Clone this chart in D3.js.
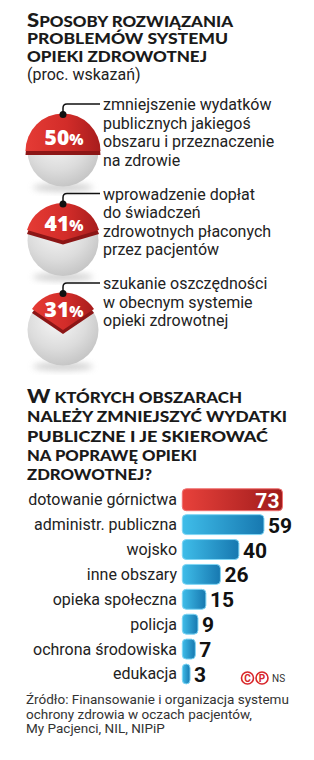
<!DOCTYPE html>
<html>
<head>
<meta charset="utf-8">
<script src="https://cdn.jsdelivr.net/npm/d3@7"></script>
<style>
  html, body { margin: 0; padding: 0; background: #ffffff; }
  svg { display: block; }
</style>
</head>
<body>
<div id="chart"></div>
<script>
// ---------- DATA ----------
const title1Lines = ["Sposoby rozwiązania", "problemów systemu", "opieki zdrowotnej"];
const subtitle1 = "(proc. wskazań)";
const pieValues = [50, 41, 31];
const pieTexts = [
  ["zmniejszenie wydatków", "publicznych jakiegoś", "obszaru i przeznaczenie", "na zdrowie"],
  ["wprowadzenie dopłat", "do świadczeń", "zdrowotnych płaconych", "przez pacjentów"],
  ["szukanie oszczędności", "w obecnym systemie", "opieki zdrowotnej"]
];
const title2Lines = ["W których obszarach", "należy zmniejszyć wydatki", "publiczne i je skierować", "na poprawę opieki", "zdrowotnej?"];
const barCategories = ["dotowanie górnictwa", "administr. publiczna", "wojsko", "inne obszary",
                       "opieka społeczna", "policja", "ochrona środowiska", "edukacja"];
const barValues = [73, 59, 40, 26, 15, 9, 7, 3];
const sourceLines = ["Źródło: Finansowanie i organizacja systemu", "ochrony zdrowia w oczach pacjentów,", "My Pacjenci, NIL, NIPiP"];

// ---------- SETUP ----------
const W = 314, H = 760;
const svg = d3.select("#chart").append("svg").attr("width", W).attr("height", H);
svg.append("rect").attr("width", W).attr("height", H).attr("fill", "#fff");
const defs = svg.append("defs");

const titleFont = "Lato, 'Open Sans', 'DejaVu Sans', sans-serif";
const pctFont = "'Open Sans', Lato, sans-serif";
const bodyFont = "Roboto, 'Noto Sans', sans-serif";

// gradients
const gGray = defs.append("radialGradient").attr("id", "gGray").attr("cx", "42%").attr("cy", "35%").attr("r", "70%");
gGray.append("stop").attr("offset", "0%").attr("stop-color", "#f7f7f7");
gGray.append("stop").attr("offset", "60%").attr("stop-color", "#dcdcdc");
gGray.append("stop").attr("offset", "100%").attr("stop-color", "#c2c2c2");

const gRedPie = defs.append("linearGradient").attr("id", "gRedPie").attr("x1", "0").attr("x2", "1").attr("y1", "0").attr("y2", "0");
gRedPie.append("stop").attr("offset", "0%").attr("stop-color", "#e53b35");
gRedPie.append("stop").attr("offset", "55%").attr("stop-color", "#d22c29");
gRedPie.append("stop").attr("offset", "100%").attr("stop-color", "#a71d1d");

const gBlue = defs.append("linearGradient").attr("id", "gBlue").attr("x1", "0").attr("x2", "1");
gBlue.append("stop").attr("offset", "0%").attr("stop-color", "#3fbde9");
gBlue.append("stop").attr("offset", "100%").attr("stop-color", "#1778b0");

const gRed = defs.append("linearGradient").attr("id", "gRed").attr("x1", "0").attr("x2", "1");
gRed.append("stop").attr("offset", "0%").attr("stop-color", "#e8413b");
gRed.append("stop").attr("offset", "100%").attr("stop-color", "#9f1b1b");

const blur = defs.append("filter").attr("id", "blur").attr("x", "-50%").attr("y", "-50%").attr("width", "200%").attr("height", "200%");
blur.append("feGaussianBlur").attr("stdDeviation", 3);

// title helper: first real capital letter larger, the rest as small capitals
function titleBlock(lines, widths, x0, y0, lh) {
  const g = svg.append("g");
  lines.forEach((line, i) => {
    const t = g.append("text").attr("x", x0).attr("y", y0 + i * lh)
      .attr("font-family", titleFont).attr("font-weight", 900).attr("fill", "#1a1a1a")
      .attr("textLength", widths[i]).attr("lengthAdjust", "spacingAndGlyphs");
    const first = line[0];
    if (first !== first.toLowerCase()) {
      t.append("tspan").attr("font-size", 19).text(first);
      t.append("tspan").attr("font-size", 14.5).style("text-transform", "uppercase").text(line.slice(1));
    } else {
      t.append("tspan").attr("font-size", 14.5).style("text-transform", "uppercase").text(line);
    }
  });
}

// ---------- TITLE 1 ----------
titleBlock(title1Lines, [206, 201, 180], 27, 26.5, 17.5);
svg.append("text").attr("x", 27).attr("y", 79.5)
  .attr("font-family", bodyFont).attr("font-size", 16).attr("fill", "#222")
  .text(subtitle1);

// ---------- PIES ----------
const pieY = d3.scalePoint().domain(d3.range(pieValues.length)).range([151, 330]);
const cx = 63, R = 35.5;
const faceArc = d3.arc().innerRadius(0).outerRadius(R + 2);
const pct = d3.scaleLinear().domain([0, 100]).range([0, 2 * Math.PI]);

pieValues.forEach((v, i) => {
  const cy = pieY(i);
  const g = svg.append("g").attr("transform", `translate(${cx},${cy})`);
  g.append("ellipse").attr("cx", 0).attr("cy", R + 1).attr("rx", R * 0.85).attr("ry", 4)
    .attr("fill", "#bdbdbd").attr("opacity", 0.7).attr("filter", "url(#blur)");
  g.append("circle").attr("r", R).attr("fill", "url(#gGray)");
  const a = pct(v) / 2;
  const slice = { startAngle: -a, endAngle: a };
  g.append("path").attr("d", faceArc(slice)).attr("transform", "translate(0,4)").attr("fill", "#8c1616");
  g.append("path").attr("d", faceArc(slice)).attr("fill", "url(#gRedPie)");
  const off = 6 + (50 - v) * 0.385;
  const t = g.append("text").attr("x", 1).attr("y", -off).attr("text-anchor", "middle")
    .attr("font-family", pctFont).attr("font-weight", 800).attr("fill", "#fff");
  t.append("tspan").attr("font-size", 21).text(v);
  t.append("tspan").attr("font-size", 15).text("%");

  const topY = cy - R - 1;
  const lineY = cy - 47;
  const rc = 4;
  const p = d3.path();
  p.moveTo(cx, topY);
  p.lineTo(cx, lineY + rc);
  p.quadraticCurveTo(cx, lineY, cx + rc, lineY);
  p.lineTo(100, lineY);
  svg.append("path").attr("d", p.toString()).attr("fill", "none").attr("stroke", "#111").attr("stroke-width", 1.5);
  svg.append("circle").attr("cx", cx).attr("cy", topY).attr("r", 3.5).attr("fill", "#111");

  svg.append("g").selectAll("text").data(pieTexts[i]).join("text")
    .attr("x", 103).attr("y", (d, j) => cy - 41 + j * 18.5)
    .attr("font-family", bodyFont).attr("font-size", 16).attr("fill", "#222")
    .text(d => d);
});

// ---------- TITLE 2 ----------
titleBlock(title2Lines, [215, 260, 241, 170, 125], 27, 403, 19.3);

// ---------- BARS ----------
const y = d3.scaleBand().domain(barCategories).range([484.8, 688.9]).paddingInner(0.2).paddingOuter(0.2);
const x = d3.scaleLinear().domain([0, 100]).range([186.1, 318.1]);
const x0 = 182.3;
const barData = barCategories.map((c, i) => ({ c, v: barValues[i], i }));

const bars = svg.append("g").selectAll("g").data(barData).join("g");
bars.append("rect")
  .attr("x", x0).attr("y", d => y(d.c) - (d.i === 0 ? 1 : 0))
  .attr("width", d => x(d.v) - x0).attr("height", d => y.bandwidth() + (d.i === 0 ? 2 : 0))
  .attr("rx", 4).attr("ry", 4)
  .attr("fill", d => d.i === 0 ? "url(#gRed)" : "url(#gBlue)")
  .attr("stroke", d => d.i === 0 ? "#f07070" : "#7fd6f5").attr("stroke-width", 1);

bars.append("text")
  .attr("x", 177).attr("y", d => y(d.c) + y.bandwidth() / 2 + 5.5)
  .attr("text-anchor", "end")
  .attr("font-family", bodyFont).attr("font-size", 16).attr("fill", "#222")
  .text(d => d.c);

bars.append("text")
  .attr("x", d => d.i === 0 ? x(d.v) - 3 : x(d.v) + 4)
  .attr("y", d => y(d.c) + y.bandwidth() / 2 + 8)
  .attr("text-anchor", d => d.i === 0 ? "end" : "start")
  .attr("font-family", bodyFont).attr("font-weight", 700).attr("font-size", 21)
  .attr("fill", d => d.i === 0 ? "#fff" : "#111")
  .text(d => d.v);

// copyright marks
const cp = svg.append("g");
[["C", 247.5], ["P", 262]].forEach(([l, px]) => {
  cp.append("circle").attr("cx", px).attr("cy", 678).attr("r", 6).attr("fill", "none").attr("stroke", "#d8262b").attr("stroke-width", 1.6);
  cp.append("text").attr("x", px).attr("y", 682).attr("text-anchor", "middle")
    .attr("font-family", bodyFont).attr("font-weight", 700).attr("font-size", 10).attr("fill", "#d8262b").text(l);
});
cp.append("text").attr("x", 272).attr("y", 682).attr("font-family", bodyFont).attr("font-size", 10).attr("fill", "#333").text("NS");

// ---------- SOURCE ----------
svg.append("g").selectAll("text").data(sourceLines).join("text")
  .attr("x", 26).attr("y", (d, i) => 704 + i * 14.5)
  .attr("font-family", bodyFont).attr("font-size", 13.5).attr("fill", "#333")
  .text(d => d);
</script>
</body>
</html>
